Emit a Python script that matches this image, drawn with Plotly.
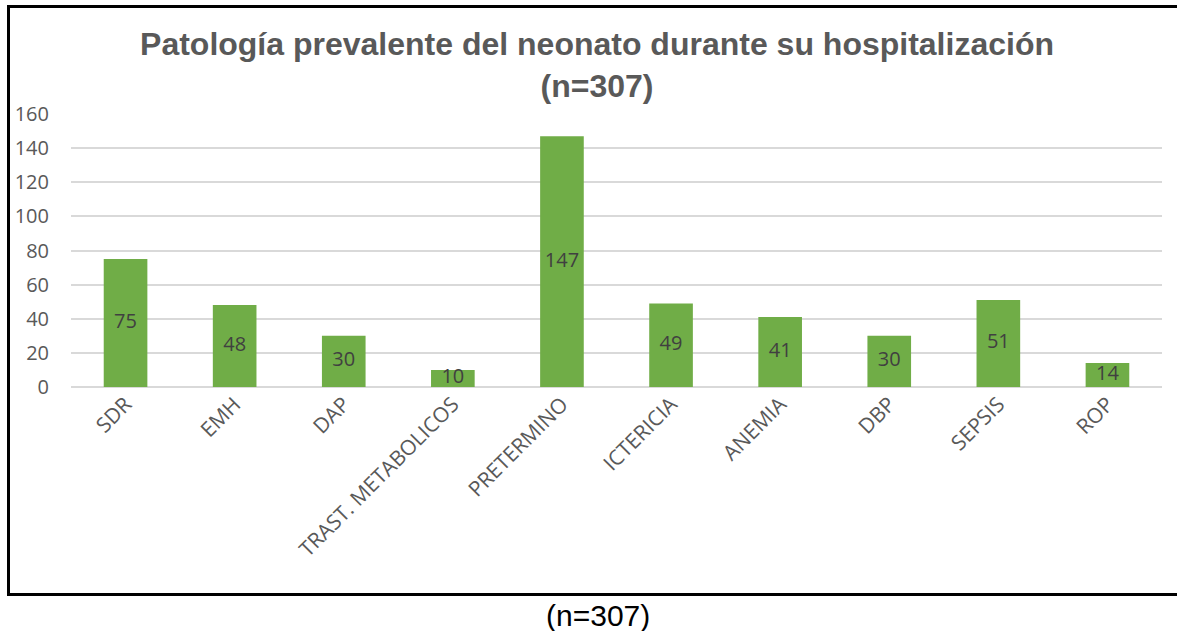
import plotly.graph_objects as go

categories = ["SDR", "EMH", "DAP", "TRAST. METABOLICOS", "PRETERMINO",
              "ICTERICIA", "ANEMIA", "DBP", "SEPSIS", "ROP"]
values = [75, 48, 30, 10, 147, 49, 41, 30, 51, 14]
y_ticks = [0, 20, 40, 60, 80, 100, 120, 140, 160]

W, H = 1177, 631
L, R, T, B = 71, 15, 114, 244
pw, ph = W - L - R, H - T - B

def px_x(x):
    return (x - L) / pw

def px_y(y):
    return (H - B - y) / ph

fig = go.Figure()
fig.add_trace(go.Bar(
    x=categories, y=values, marker=dict(color="#70ad47", line=dict(width=0)),
    width=0.4, hoverinfo="x+y", showlegend=False,
))
fig.add_trace(go.Scatter(
    x=categories, y=[v / 2 for v in values], mode="text",
    text=[str(v) for v in values],
    textfont=dict(family="Open Sans", size=20, color="#404040"),
    showlegend=False, hoverinfo="skip",
))

fig.update_layout(
    width=W, height=H,
    margin=dict(l=L, r=R, t=T, b=B),
    plot_bgcolor="white", paper_bgcolor="white",
    title=dict(
        text="<b>Patología prevalente del neonato durante su hospitalización<br>(n=307)</b>",
        x=597 / W, xanchor="center", y=1 - 55 / H, yanchor="middle",
        font=dict(family="Liberation Sans, Arial", size=32, color="#595959"),
    ),
    xaxis=dict(
        tickangle=-45, tickfont=dict(family="Open Sans", size=21, color="#595959"),
        showgrid=False, showline=False, ticks="",
    ),
    yaxis=dict(
        range=[0, 160], tickvals=y_ticks, ticktext=[str(t) for t in y_ticks],
        tickfont=dict(family="Open Sans", size=20, color="#595959"),
        showgrid=True, gridcolor="#d9d9d9", gridwidth=1.5,
        zeroline=True, zerolinecolor="#d9d9d9", zerolinewidth=1.5,
        showline=False, ticks="", ticklabelstandoff=21,
    ),
    shapes=[dict(
        type="rect", xref="paper", yref="paper",
        x0=px_x(8.5), x1=px_x(1190), y0=px_y(594.5), y1=px_y(6.5),
        line=dict(color="black", width=3), fillcolor="rgba(0,0,0,0)", layer="below",
    )],
    annotations=[dict(
        text="(n=307)", xref="paper", yref="paper",
        x=px_x(598), y=px_y(615), xanchor="center", yanchor="middle",
        showarrow=False, font=dict(family="Liberation Sans, Arial", size=30, color="black"),
    )],
)

fig.write_html("out.html", config={"displayModeBar": False},
               post_script="document.body.style.margin='0px';")
